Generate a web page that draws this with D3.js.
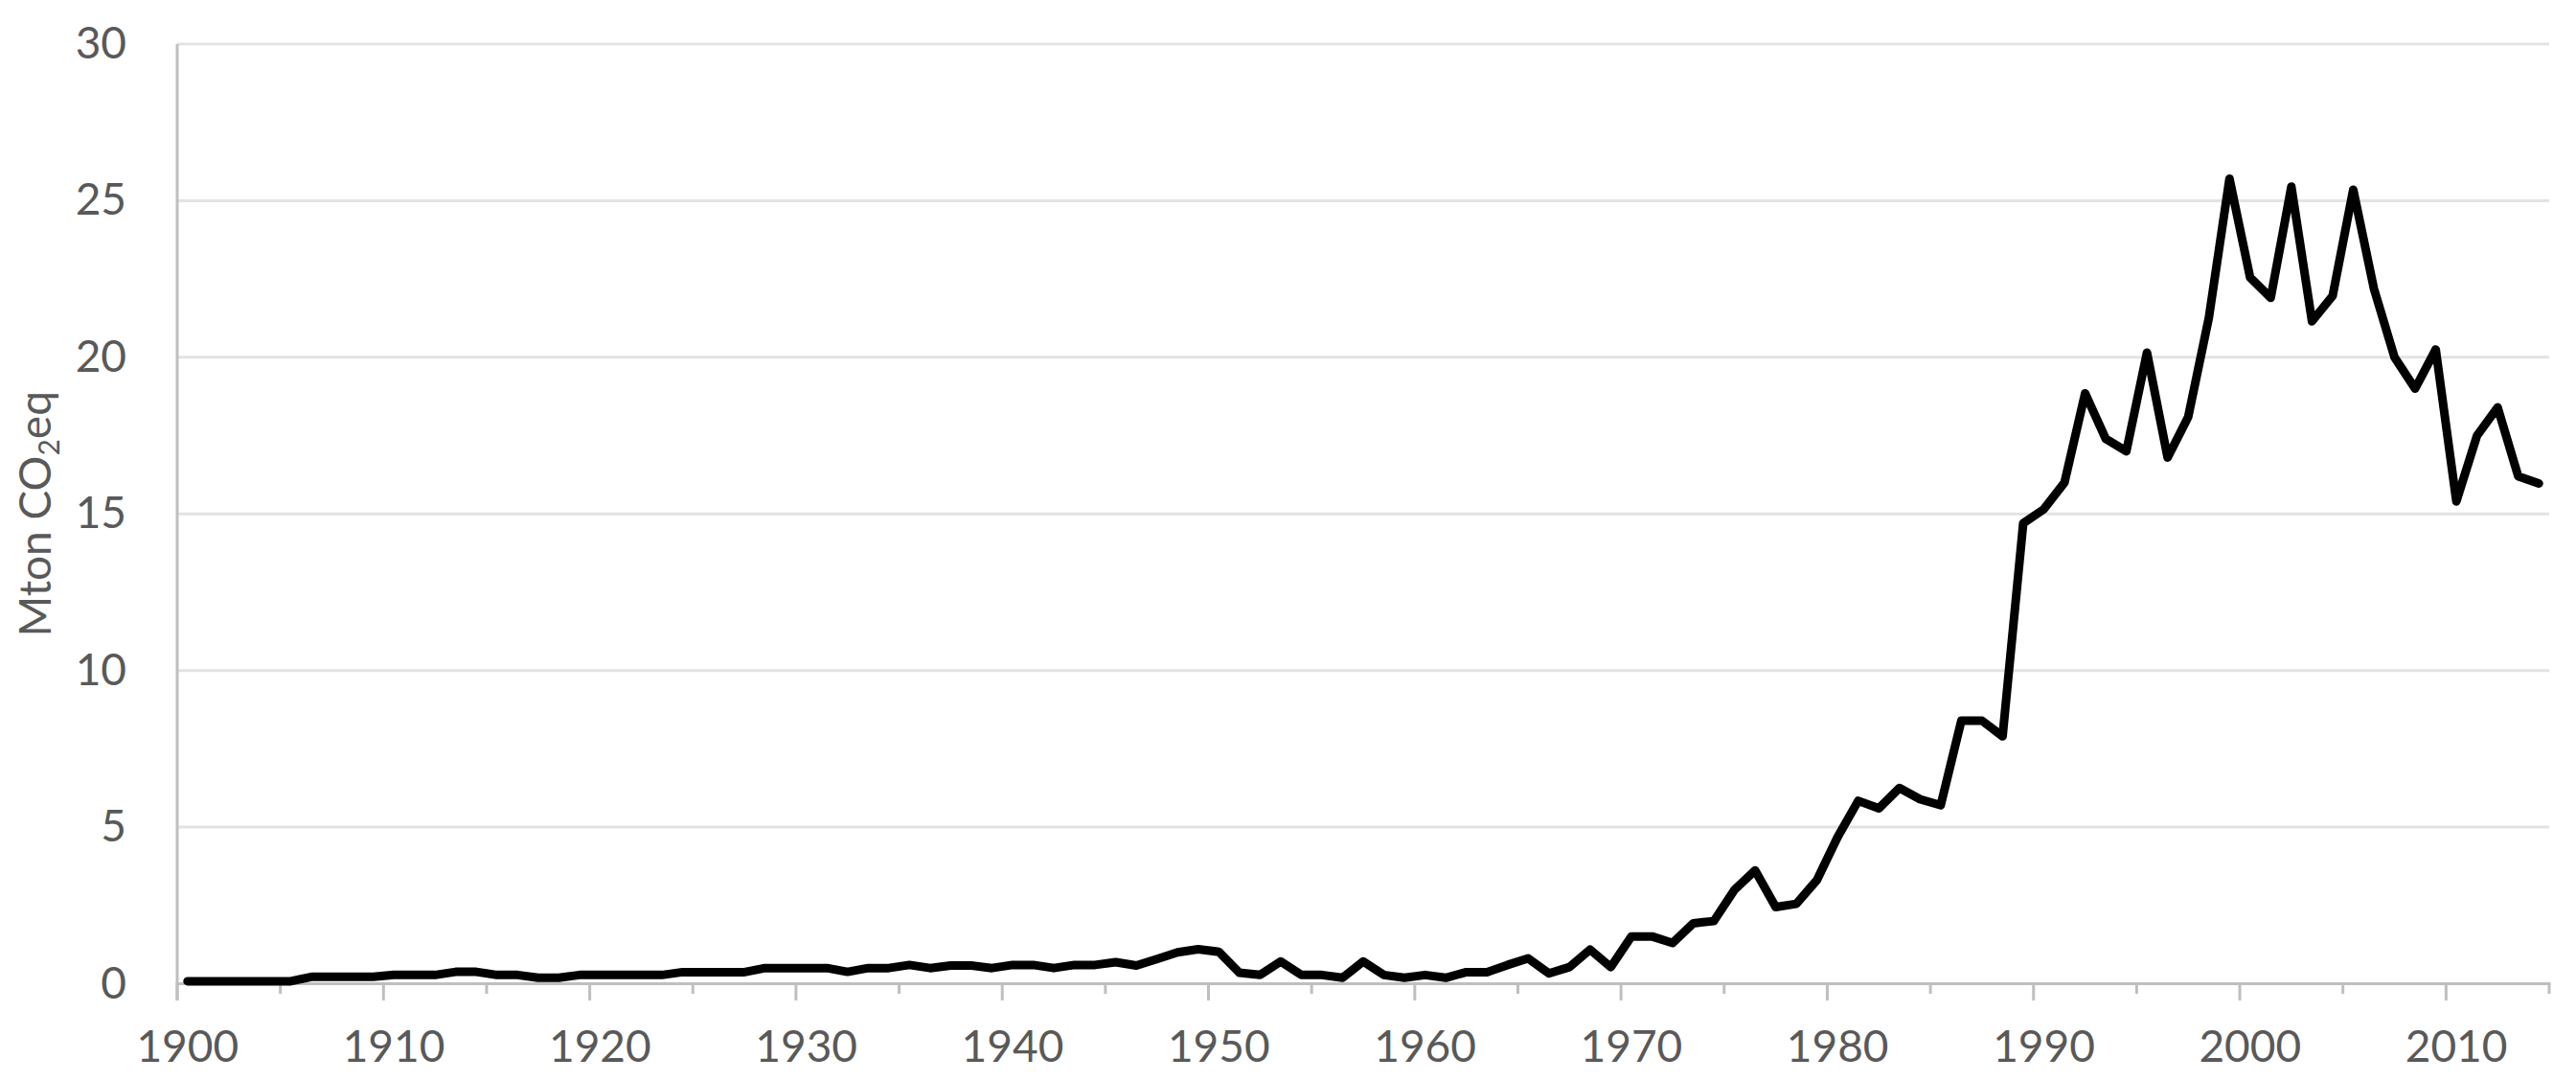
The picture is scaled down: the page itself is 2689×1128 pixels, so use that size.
<!DOCTYPE html>
<html>
<head>
<meta charset="utf-8">
<script src="https://cdn.jsdelivr.net/npm/d3@7"></script>
<style>
  html, body { margin: 0; padding: 0; background: #ffffff; }
  svg { display: block; }
  text { font-family: Lato, "Open Sans", sans-serif; fill: #595959; }
</style>
</head>
<body>
<svg id="chart" width="2689" height="1128"></svg>
<script>
// ---- data ----
const years = d3.range(1900, 2015);
const values = [
  // 1900-1909
  0.08, 0.08, 0.08, 0.08, 0.08, 0.08, 0.22, 0.22, 0.22, 0.22,
  // 1910-1919
  0.28, 0.28, 0.28, 0.38, 0.38, 0.28, 0.28, 0.19, 0.19, 0.28,
  // 1920-1929
  0.28, 0.28, 0.28, 0.28, 0.37, 0.37, 0.37, 0.37, 0.50, 0.50,
  // 1930-1939
  0.50, 0.50, 0.38, 0.50, 0.50, 0.60, 0.50, 0.58, 0.58, 0.50,
  // 1940-1949
  0.60, 0.60, 0.50, 0.60, 0.60, 0.69, 0.58, 0.79, 1.00, 1.10,
  // 1950-1959
  1.02, 0.35, 0.28, 0.71, 0.28, 0.28, 0.19, 0.71, 0.28, 0.19,
  // 1960-1969
  0.28, 0.19, 0.37, 0.37, 0.60, 0.81, 0.33, 0.53, 1.09, 0.53,
  // 1970-1979
  1.51, 1.51, 1.30, 1.93, 2.00, 3.00, 3.62, 2.45, 2.55, 3.31,
  // 1980-1989
  4.68, 5.84, 5.60, 6.25, 5.89, 5.70, 8.40, 8.40, 7.90, 14.70,
  // 1990-1999
  15.15, 16.00, 18.85, 17.40, 17.00, 20.15, 16.80, 18.10, 21.26, 25.70,
  // 2000-2009
  22.55, 21.90, 25.45, 21.15, 21.96, 25.35, 22.20, 20.00, 19.00, 20.25,
  // 2010-2014
  15.40, 17.50, 18.40, 16.20, 15.97
];
const yTicks = [0, 5, 10, 15, 20, 25, 30];
const xLabelYears = [1900, 1910, 1920, 1930, 1940, 1950, 1960, 1970, 1980, 1990, 2000, 2010];
const yTitle = { main: "Mton CO", sub: "2", tail: "eq" };

// ---- layout ----
const plotL = 185, plotR = 2661, plotT = 46, plotB = 1026.5;
const svg = d3.select("#chart");

const x = d3.scaleLinear().domain([1899.5, 2014.5]).range([plotL, plotR]);
const y = d3.scaleLinear().domain([0, 30]).range([plotB, plotT]);

// gridlines
svg.append("g").selectAll("line")
  .data(yTicks.filter(v => v > 0))
  .join("line")
  .attr("x1", plotL).attr("x2", plotR)
  .attr("y1", d => y(d)).attr("y2", d => y(d))
  .attr("stroke", "#e3e3e3").attr("stroke-width", 3);

// y tick labels
svg.append("g").selectAll("text")
  .data(yTicks)
  .join("text")
  .attr("x", 132)
  .attr("y", d => y(d) + 15)
  .attr("text-anchor", "end")
  .attr("font-size", 46)
  .text(d => d);

// x axis: boundary ticks every 5 years
const boundaries = d3.range(0, 116, 5).map(i => 1899.5 + i);
svg.append("g").selectAll("line")
  .data(boundaries)
  .join("line")
  .attr("x1", d => x(d)).attr("x2", d => x(d))
  .attr("y1", plotB)
  .attr("y2", d => ((d - 1899.5) % 10 === 0) ? 1044 : 1037)
  .attr("stroke", "#bfbfbf").attr("stroke-width", 3);

// x axis line
svg.append("line")
  .attr("x1", plotL - 1.5).attr("x2", plotR + 1.5)
  .attr("y1", plotB).attr("y2", plotB)
  .attr("stroke", "#bfbfbf").attr("stroke-width", 3);

// y axis line
svg.append("line")
  .attr("x1", plotL).attr("x2", plotL)
  .attr("y1", plotT).attr("y2", 1044)
  .attr("stroke", "#bfbfbf").attr("stroke-width", 3);

// x labels
svg.append("g").selectAll("text")
  .data(xLabelYears)
  .join("text")
  .attr("x", d => x(d))
  .attr("y", 1108)
  .attr("text-anchor", "middle")
  .attr("font-size", 46)
  .text(d => d);

// y title
const t = svg.append("text")
  .attr("transform", `translate(53, ${(plotT + plotB) / 2}) rotate(-90)`)
  .attr("text-anchor", "middle")
  .attr("font-size", 46);
t.append("tspan").text(yTitle.main);
t.append("tspan").attr("font-size", 30).attr("dy", 9).text(yTitle.sub);
t.append("tspan").attr("dy", -9).text(yTitle.tail);

// line
const line = d3.line()
  .x((d, i) => x(years[i]))
  .y(d => y(d));

svg.append("path")
  .datum(values)
  .attr("d", line)
  .attr("fill", "none")
  .attr("stroke", "#000000")
  .attr("stroke-width", 9)
  .attr("stroke-linejoin", "round")
  .attr("stroke-linecap", "round");
</script>
</body>
</html>
